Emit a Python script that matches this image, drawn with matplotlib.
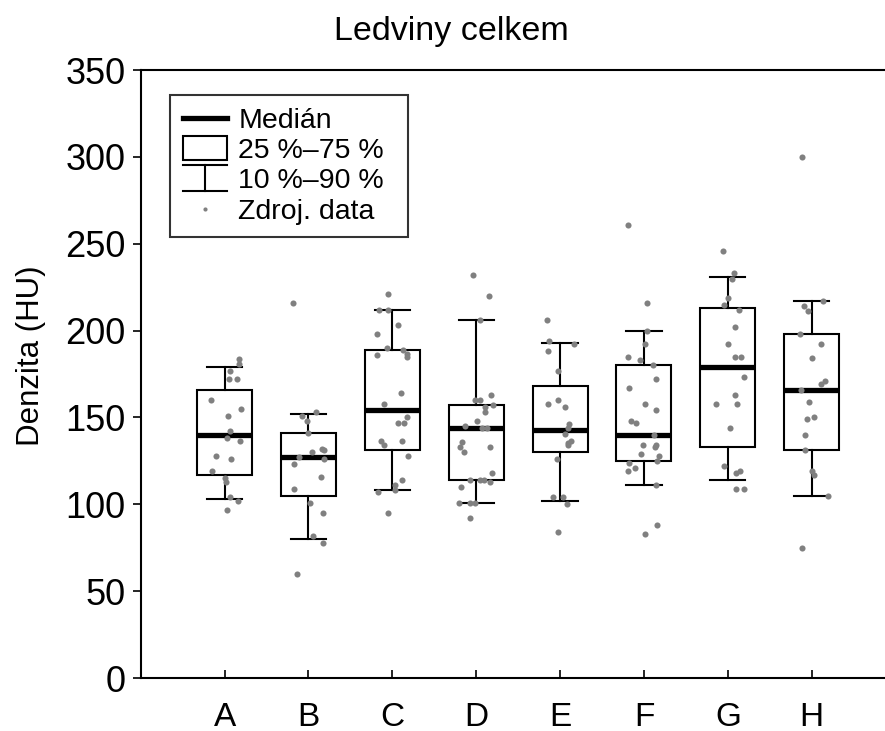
import matplotlib
matplotlib.use("Agg")
import matplotlib.pyplot as plt
from matplotlib.legend_handler import HandlerBase
from matplotlib.lines import Line2D
from matplotlib.patches import Rectangle

plt.rcParams["font.family"] = ["Liberation Sans", "DejaVu Sans"]

groups = ["A", "B", "C", "D", "E", "F", "G", "H"]

# box statistics (HU)
medians = [140, 127, 154, 144, 143, 140, 179, 166]
q25 = [117, 105, 131, 114, 130, 125, 133, 131]
q75 = [166, 141, 189, 157, 168, 180, 213, 198]
p10 = [103, 80, 108, 101, 102, 111, 114, 105]
p90 = [179, 152, 212, 206, 193, 200, 231, 217]

# raw data points (HU) and their horizontal jitter
vals_a = [183.5, 181, 177, 172, 172, 160, 155, 151, 142, 138, 136.5, 128, 126, 119, 115, 113, 104, 102, 97]
jit_a = [0.17, 0.17, 0.07, 0.05, 0.15, -0.16, 0.19, 0.04, 0.07, 0.03, 0.18, -0.10, 0.08, -0.15, 0.0, 0.02, 0.06, 0.16, 0.03]
vals_b = [216, 153, 151, 148, 141, 132, 131, 130, 127, 126, 123, 116, 109, 101, 95, 82, 78, 60]
jit_b = [-0.19, 0.09, -0.08, -0.02, 0.0, 0.16, 0.18, 0.04, -0.11, 0.19, -0.17, 0.15, -0.17, 0.02, 0.17, 0.05, 0.17, -0.14]
vals_c = [221, 212, 212, 203, 198, 190, 189, 186.5, 185, 186, 164, 158, 150, 147, 147, 136.5, 134, 136.5, 128,
          114, 111, 108, 107, 95]
jit_c = [-0.05, -0.16, -0.05, 0.07, -0.18, -0.06, 0.13, 0.18, 0.17, -0.18, 0.10, -0.10, 0.17, 0.07, 0.14, -0.14,
         -0.10, 0.11, 0.19, 0.11, 0.03, 0.03, -0.17, -0.05]
vals_d = [232, 220, 206, 163, 160, 160, 157, 156, 153, 148, 145, 144, 144, 136, 133, 130, 133, 118, 114, 114, 114,
          113, 110, 101, 101, 101, 92]
jit_d = [-0.04, 0.15, 0.05, 0.18, -0.01, 0.05, 0.20, 0.11, 0.11, 0.01, -0.13, 0.07, 0.13, -0.17, -0.19, -0.14,
         0.17, 0.19, -0.07, 0.04, 0.09, 0.17, -0.18, -0.20, -0.08, -0.01, -0.08]
vals_e = [206, 194, 192, 188, 177, 158, 160, 156, 146, 144, 140.5, 136.5, 135, 134, 126, 104, 104, 100, 84]
jit_e = [-0.16, -0.13, 0.17, -0.14, -0.02, -0.15, -0.03, 0.06, 0.11, 0.09, 0.06, 0.13, 0.10, 0.09, -0.04, -0.08,
         0.04, 0.08, -0.02]
vals_f = [261, 216, 200, 192, 185, 183, 180, 172, 167, 158, 154, 148, 147, 140, 134, 134, 133, 129, 128, 125,
          124, 119, 121, 111, 88, 83]
jit_f = [-0.19, 0.03, 0.04, 0.01, -0.19, -0.05, 0.11, 0.14, -0.18, 0.01, 0.14, -0.15, -0.09, 0.12, -0.01, 0.14,
         0.13, -0.03, 0.18, 0.16, -0.18, -0.19, -0.11, 0.14, 0.16, 0.01]
vals_g = [246, 233, 229.5, 219, 215, 212, 202, 192, 185, 185, 173, 163, 158, 158, 144, 122, 118, 119, 109, 109]
jit_g = [-0.06, 0.07, 0.05, 0.0, -0.05, 0.13, 0.08, 0.0, 0.08, 0.16, 0.19, 0.08, -0.14, 0.11, 0.03, -0.05, 0.10,
         0.14, 0.10, 0.19]
vals_h = [300, 217, 214, 211, 198, 192, 184, 171, 169, 166, 159, 150, 149, 140, 131, 119, 117, 105, 75]
jit_h = [-0.12, 0.14, -0.09, -0.04, -0.14, 0.11, 0.0, 0.16, 0.11, -0.13, -0.03, 0.03, -0.06, -0.08, -0.08, 0.0,
         0.03, 0.19, -0.12]

all_vals = [vals_a, vals_b, vals_c, vals_d, vals_e, vals_f, vals_g, vals_h]
all_jit = [jit_a, jit_b, jit_c, jit_d, jit_e, jit_f, jit_g, jit_h]


class HandlerWhisker(HandlerBase):
    def create_artists(self, legend, orig_handle, xdescent, ydescent, width, height, fontsize, trans):
        lw = orig_handle.get_linewidth()
        extra = 0.15 * height
        y0, y1 = -ydescent - extra, -ydescent + height + extra
        x0, x1 = -xdescent, -xdescent + width
        xm = (x0 + x1) / 2
        arts = [
            Line2D([x0, x1], [y0, y0], color="black", lw=lw, transform=trans),
            Line2D([x0, x1], [y1, y1], color="black", lw=lw, transform=trans),
            Line2D([xm, xm], [y0, y1], color="black", lw=lw, transform=trans),
        ]
        return arts


class HandlerBox(HandlerBase):
    def create_artists(self, legend, orig_handle, xdescent, ydescent, width, height, fontsize, trans):
        extra = 0.1 * height
        r = Rectangle((-xdescent, -ydescent - extra), width, height + 2 * extra,
                      facecolor="white", edgecolor="black", lw=orig_handle.get_linewidth(), transform=trans)
        return [r]


fig = plt.figure(figsize=(8.85, 7.31), dpi=100)
ax = fig.add_axes([0.159, 0.0725, 0.853, 0.8317])

stats = []
for g, m, lo, hi, wl, wh in zip(groups, medians, q25, q75, p10, p90):
    stats.append({"label": g, "med": m, "q1": lo, "q3": hi, "whislo": wl, "whishi": wh, "fliers": []})

positions = list(range(1, len(groups) + 1))
ax.bxp(stats, positions=positions, widths=0.656, capwidths=0.42, showfliers=False,
       patch_artist=True,
       boxprops=dict(facecolor="white", edgecolor="black", linewidth=1.5),
       medianprops=dict(color="black", linewidth=3.8, solid_capstyle="butt"),
       whiskerprops=dict(color="black", linewidth=1.5),
       capprops=dict(color="black", linewidth=1.5))

for pos, vals, jit in zip(positions, all_vals, all_jit):
    xs = [pos + j for j in jit]
    ax.plot(xs, vals, "o", color="#808080", markersize=4.4, markeredgewidth=0, zorder=5)

ax.set_xlim(0, 9)
ax.set_ylim(0, 350)
ax.set_xticks(positions)
ax.set_xticklabels(groups)
ax.set_yticks(range(0, 351, 50))
ax.tick_params(axis="x", direction="in", length=6, width=1.2, labelsize=24, pad=17)
ax.tick_params(axis="y", direction="out", length=6, width=1.2, labelsize=26, pad=5)
for sp in ax.spines.values():
    sp.set_linewidth(1.5)

ax.set_ylabel("Denzita (HU)", fontsize=22.5)
ax.yaxis.set_label_coords(-0.126, 0.53)

fig.text(0.5105, 1 - 40 / 731, "Ledviny celkem", fontsize=24.5, ha="center", va="baseline")

h_med = Line2D([], [], color="black", lw=3.8)
h_box = Rectangle((0, 0), 1, 1, lw=1.5)
h_whisk = Line2D([], [], color="black", lw=1.5)
h_dot = Line2D([], [], marker="o", ls="none", color="#808080", markersize=3, markeredgewidth=0)

leg = ax.legend([h_med, h_box, h_whisk, h_dot], ["Medián", "25 %–75 %", "10 %–90 %", "Zdroj. data"],
                handler_map={Rectangle: HandlerBox(), h_whisk: HandlerWhisker()},
                loc="upper left", bbox_to_anchor=(0.039, 0.5, 0.3154, 0.459), mode="expand",
                borderaxespad=0, fontsize=20.5, frameon=True, fancybox=False, edgecolor="black",
                handlelength=1.55, handletextpad=0.4, labelspacing=0.15, borderpad=0.45)
leg.get_frame().set_linewidth(1.5)

fig.savefig("out.png", dpi=100)
